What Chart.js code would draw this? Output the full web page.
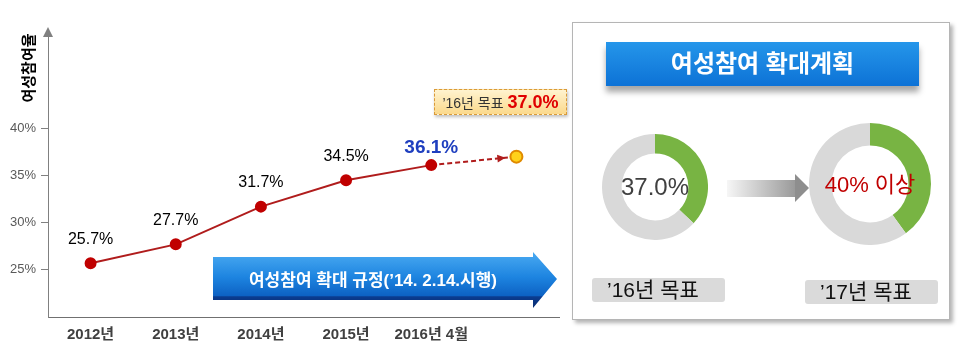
<!DOCTYPE html>
<html lang="ko">
<head>
<meta charset="utf-8">
<title>여성참여율</title>
<script src="https://cdn.jsdelivr.net/npm/chart.js@4.4.1/dist/chart.umd.min.js"></script>
<style>
body { margin: 0; background: #fff; font-family: "Liberation Sans", "Noto Sans CJK KR", sans-serif; }
#wrap { position: relative; width: 967px; height: 361px; overflow: hidden; }
#lineChart { position: absolute; left: 0; top: 0; }
#target { position: absolute; left: 434px; top: 89px; width: 131px; height: 24px; border: 1px dashed #d99a3a;
  background: linear-gradient(#fff3cf, #fbd98c); box-shadow: 1px 2px 3px rgba(0,0,0,0.25);
  font-size: 14px; line-height: 24px; color: #333; text-align: center; white-space: nowrap; }
#target b { color: #e00000; font-size: 18px; }
#rule { position: absolute; left: 213px; top: 252px; width: 344px; height: 56px;
  clip-path: polygon(0 5px, 320px 5px, 320px 0, 344px 27px, 320px 56px, 320px 48px, 0 48px);
  background: linear-gradient(#4aaaf2 0%, #1d84e0 45%, #0d62c4 78%, #0a3c90 80%, #0a2c70 100%); }
#ruleText { position: absolute; left: 213px; top: 268px; width: 320px; text-align: center; color: #fff;
  font-weight: bold; font-size: 17px; line-height: 26px; white-space: nowrap; }
#panel { position: absolute; left: 572px; top: 22px; width: 376px; height: 296px; border: 1px solid #b5b5b5;
  background: #fff; box-shadow: 3px 3px 4px rgba(0,0,0,0.3); }
#planTitle { position: absolute; left: 606px; top: 42px; width: 313px; height: 44px; line-height: 44px;
  background: linear-gradient(#2596ea, #0d72d6); color: #fff; font-weight: bold; font-size: 24px; text-align: center;
  box-shadow: 0 6px 6px rgba(0,0,0,0.35); }
#d16 { position: absolute; left: 602px; top: 134px; }
#d17 { position: absolute; left: 809px; top: 123px; }
.inner { position: absolute; text-align: center; white-space: nowrap; }
#t16 { left: 605px; top: 172px; width: 100px; font-size: 24px; line-height: 30px; color: #404040; }
#t17 { left: 810px; top: 170px; width: 120px; font-size: 22px; line-height: 30px; color: #c00000; }
#arrowBody { position: absolute; left: 727px; top: 180px; width: 68px; height: 17px;
  background: linear-gradient(to right, rgba(210,210,210,0.2), #9a9a9a); }
#arrowHead { position: absolute; left: 795px; top: 174px; width: 0; height: 0;
  border-left: 14px solid #8e8e8e; border-top: 14px solid transparent; border-bottom: 14px solid transparent; }
.goal { position: absolute; height: 24px; width: 133px; background: #dadada; border-radius: 3px;
  font-size: 21px; line-height: 24px; color: #111; box-sizing: border-box; padding-left: 15px; white-space: nowrap; }
</style>
</head>
<body>
<div id="wrap">
  <canvas id="lineChart" width="570" height="361"></canvas>
  <div id="target">’16년 목표 <b>37.0%</b></div>
  <div id="rule"></div>
  <div id="ruleText">여성참여 확대 규정(’14. 2.14.시행)</div>

  <div id="panel"></div>
  <div id="planTitle">여성참여 확대계획</div>
  <canvas id="d16" width="106" height="106"></canvas>
  <div class="inner" id="t16">37.0%</div>
  <div id="arrowBody"></div>
  <div id="arrowHead"></div>
  <canvas id="d17" width="122" height="122"></canvas>
  <div class="inner" id="t17">40% 이상</div>
  <div class="goal" style="left:592px; top:278px;">’16년 목표</div>
  <div class="goal" style="left:805px; top:280px;">’17년 목표</div>
</div>

<script>
// 연도별 여성참여율 (마지막 칸은 '16년 목표)
const years = ['2012년', '2013년', '2014년', '2015년', '2016년 4월', ''];
const actualRate = [25.7, 27.7, 31.7, 34.5, 36.1, null];
const targetRate = [null, null, null, null, 36.1, 37.0];
const yTicks = [25, 30, 35, 40];

// 도넛 차트 값
const goal16 = [37.0, 63.0];
const goal17 = [40, 60];

const lineRed = '#b01c1c';

// 축 화살표, 축 제목, 점선 화살표, 값 라벨
const decorPlugin = {
    id: 'decor',
    afterDraw(chart) {
        const ctx = chart.ctx;
        const area = chart.chartArea;
        const x = chart.scales.x;
        const y = chart.scales.y;
        ctx.save();

        // y축 끝 화살표
        ctx.fillStyle = '#808080';
        ctx.beginPath();
        ctx.moveTo(area.left, area.top - 7);
        ctx.lineTo(area.left - 5, area.top + 3);
        ctx.lineTo(area.left + 5, area.top + 3);
        ctx.closePath();
        ctx.fill();

        // 축 제목
        ctx.translate(30, 68);
        ctx.rotate(-Math.PI / 2);
        ctx.fillStyle = '#000';
        ctx.font = 'bold 15px "Liberation Sans", "Noto Sans CJK KR", sans-serif';
        ctx.textAlign = 'center';
        ctx.textBaseline = 'middle';
        ctx.fillText('여성참여율', 0, 0);
        ctx.setTransform(1, 0, 0, 1, 0, 0);

        // 점선 끝 화살표
        const x1 = x.getPixelForValue(4), y1 = y.getPixelForValue(targetRate[4]);
        const x2 = x.getPixelForValue(5), y2 = y.getPixelForValue(targetRate[5]);
        const ang = Math.atan2(y2 - y1, x2 - x1);
        const tipX = x2 - Math.cos(ang) * 11, tipY = y2 - Math.sin(ang) * 11;
        ctx.fillStyle = lineRed;
        ctx.beginPath();
        ctx.moveTo(tipX, tipY);
        ctx.lineTo(tipX - Math.cos(ang - 0.45) * 9, tipY - Math.sin(ang - 0.45) * 9);
        ctx.lineTo(tipX - Math.cos(ang + 0.45) * 9, tipY - Math.sin(ang + 0.45) * 9);
        ctx.closePath();
        ctx.fill();

        // 값 라벨
        const meta = chart.getDatasetMeta(1);
        ctx.textAlign = 'center';
        ctx.textBaseline = 'middle';
        actualRate.forEach((v, i) => {
            if (v === null) return;
            const p = meta.data[i];
            const last = i === 4;
            ctx.fillStyle = last ? '#1f3fbf' : '#000';
            ctx.font = (last ? 'bold 19px ' : '16px ') + '"Liberation Sans", sans-serif';
            ctx.fillText(v.toFixed(1) + '%', p.x, p.y - (last ? 17 : 24));
        });
        ctx.restore();
    }
};

new Chart(document.getElementById('lineChart'), {
    type: 'line',
    data: {
        labels: years,
        datasets: [{
            data: targetRate,
            borderColor: lineRed,
            borderWidth: 2,
            borderDash: [5, 3],
            pointRadius: [0, 0, 0, 0, 0, 6],
            pointBackgroundColor: '#ffd21a',
            pointBorderColor: '#e08a00',
            pointBorderWidth: 2,
            order: 2
        }, {
            data: actualRate,
            borderColor: lineRed,
            borderWidth: 2,
            pointRadius: 5,
            pointBackgroundColor: '#c00000',
            pointBorderColor: '#c00000',
            order: 1
        }]
    },
    options: {
        responsive: false,
        animation: false,
        layout: { padding: { top: 34, right: 11, left: 0, bottom: 0 } },
        plugins: { legend: { display: false }, tooltip: { enabled: false } },
        scales: {
            x: {
                offset: true,
                grid: { display: false },
                border: { display: true, color: '#707070', width: 1 },
                ticks: {
                    padding: 1,
                    color: '#404040',
                    font: { size: 15, weight: 'bold', family: '"Liberation Sans", "Noto Sans CJK KR", sans-serif' }
                },
                afterFit(scale) { scale.height = 44; }
            },
            y: {
                min: 20,
                max: 50,
                grid: { display: true, drawOnChartArea: false, drawTicks: true, tickLength: 7, color: '#808080' },
                border: { display: true, color: '#808080', width: 1 },
                ticks: {
                    padding: 5,
                    color: '#595959',
                    font: { size: 13, family: '"Liberation Sans", sans-serif' },
                    callback: v => v + '%'
                },
                afterBuildTicks(scale) { scale.ticks = yTicks.map(v => ({ value: v })); },
                afterFit(scale) { scale.width = 48; }
            }
        }
    },
    plugins: [decorPlugin]
});

function donut(id, values) {
    new Chart(document.getElementById(id), {
        type: 'doughnut',
        data: {
            datasets: [{
                data: values,
                backgroundColor: ['#78b443', '#d9d9d9'],
                borderWidth: 0
            }]
        },
        options: {
            responsive: false,
            animation: false,
            cutout: '63%',
            plugins: { legend: { display: false }, tooltip: { enabled: false } }
        }
    });
}
donut('d16', goal16);
donut('d17', goal17);
</script>
</body>
</html>
